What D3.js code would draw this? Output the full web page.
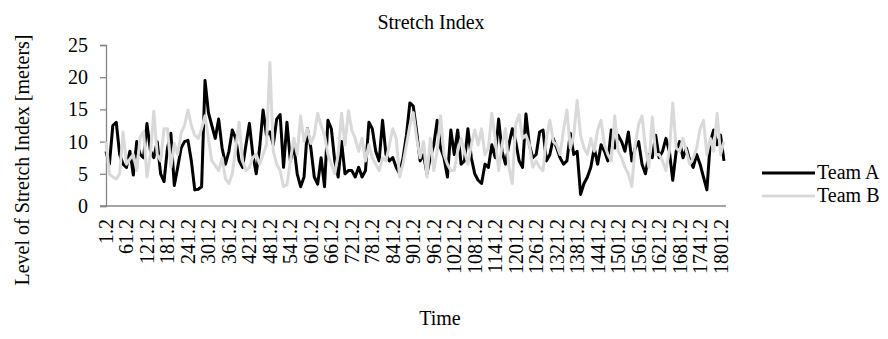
<!DOCTYPE html>
<html>
<head>
<meta charset="utf-8">
<script src="https://cdn.jsdelivr.net/npm/d3@7"></script>
<style>
  body { margin: 0; background: #fff; }
  text { font-family: "Liberation Serif", "Times New Roman", serif; fill: #000; }
</style>
</head>
<body>
<script>
// time stamps: every 10 s starting from 1.2
const timeStart = 1.2;
const timeStep = 10;

// Stretch index, 6 samples per 60-unit label interval
const teamA = [
  8.5, 6.5, 12.5, 13, 8, 6.5,
  6, 8.5, 4.8, 10, 8, 7.5,
  12.8, 8.6, 7.5, 10, 5, 3.8,
  9, 11.3, 3.2, 6, 9, 10,
  10.2, 7, 2.5, 2.6, 3, 19.5,
  14.5, 12.5, 10.5, 13.5, 9, 6.5,
  8.5, 11.8, 10.5, 7, 6, 9.5,
  12.8, 8, 5, 9, 14.9, 11,
  11.5, 9.5, 13.5, 14.2, 6, 13,
  7, 9.5, 5, 3, 4.5, 12,
  9, 4.5, 3.4, 7.5, 3, 13.3,
  12, 7, 4.5, 10, 5, 5.5,
  5.5, 4.5, 6, 4.5, 5.5, 13,
  12, 8.5, 7, 13.3, 8, 7,
  7.5, 6, 5, 7.5, 11, 16,
  15.5, 11.5, 7, 8, 5, 7.5,
  9.5, 13.3, 9, 7.5, 4.5, 11.8,
  8, 11.8, 6.5, 7, 12, 7.5,
  5, 4, 3.5, 6.5, 6, 9.5,
  7.5, 13.5, 8.5, 6.5, 9.5, 12,
  10, 7, 6, 14.3, 9.5, 7.5,
  8, 11.5, 11.8, 7, 8, 10.5,
  9, 7.5, 6.5, 7, 11.3, 8,
  8.5, 1.8, 3.5, 4.5, 6, 9,
  6.5, 9.5, 8.5, 7, 11.8, 9,
  11, 10, 8.5, 11.5, 7, 9,
  10, 6.5, 5, 8, 7.5, 11,
  7.5, 8.5, 10.5, 8.5, 4, 8.5,
  10, 7.5, 9, 7, 6, 8,
  6.5, 4.5, 2.5, 10, 11.8, 9.5,
  11, 7
];
const teamB = [
  10, 5, 4.5, 4.2, 5, 11.5,
  6.5, 7.3, 8, 5.5, 10.7, 11.5,
  4.5, 8, 14.7, 8, 7, 12,
  12, 6, 9.7, 8, 11.3, 12.5,
  14.9, 12.5, 11, 10.5, 12, 14,
  10.5, 7, 6.3, 5.5, 7.5, 4.2,
  3.5, 5, 9, 13, 7, 5.5,
  6, 7.5, 8, 6.5, 8, 9.5,
  22.3, 8.5, 6.5, 5.5, 3, 3.3,
  7, 10.5, 8, 14, 10, 12,
  9.7, 11, 14.4, 12.5, 11, 8,
  6.5, 5, 8, 14.4, 9.5, 14.8,
  11.8, 10.5, 8.5, 10.5, 7, 9.5,
  7.5, 6.5, 5.5, 7.5, 7, 9.5,
  12, 10.5, 4.5, 6.5, 9.5, 12.5,
  14.5, 10.5, 7.5, 10, 4.5, 10.5,
  5.5, 8.5, 14, 8, 6.5, 5.5,
  5.5, 8.5, 10.5, 8.5, 6.5, 9.5,
  11.8, 9.5, 12, 8, 9, 14.4,
  10.5, 5.5, 9.5, 12, 6, 3.5,
  12.7, 14.2, 10.5, 11, 9.5, 6,
  7, 6, 5.5, 10.5, 13.3, 10,
  9.5, 8, 11.8, 14.9, 9, 11,
  16.4, 11, 9, 8, 10.5, 8.5,
  11.8, 13.3, 9.5, 8, 7, 14,
  8.5, 7.5, 6, 5, 3, 9.5,
  12.7, 14, 9, 6, 13.8, 8,
  8, 7, 5.5, 8.5, 16, 9,
  8.5, 10.5, 8.5, 6.5, 7.5, 9,
  12, 13.3, 8, 10.5, 8.5, 14.4,
  8, 10
];

const xTickLabels = d3.range(0, 31).map(i => (1.2 + i * 60).toFixed(1));
const yTicks = [0, 5, 10, 15, 20, 25];
const seriesNames = ['Team A', 'Team B'];
const seriesColors = ['#000000', '#d9d9d9'];

const times = teamA.map((d, i) => timeStart + i * timeStep);

const W = 888, H = 339;
const plot = { left: 106, right: 725, top: 45, bottom: 206 };
const fontSize = 20;

const svg = d3.select('body').append('svg')
  .attr('width', W)
  .attr('height', H);

const x = d3.scaleLinear()
  .domain([timeStart, d3.max(times) + 3])
  .range([plot.left, plot.right]);

const y = d3.scaleLinear()
  .domain([0, 25])
  .range([plot.bottom, plot.top]);

// y axis
const yAxis = svg.append('g')
  .attr('transform', `translate(${plot.left},0)`)
  .call(d3.axisLeft(y).tickValues(yTicks).tickSize(6).tickPadding(12));
yAxis.select('.domain').attr('stroke', '#868686').attr('stroke-width', 1.3);
yAxis.selectAll('.tick line').attr('stroke', '#868686').attr('stroke-width', 1.3);
yAxis.selectAll('.tick text')
  .attr('font-size', fontSize)
  .attr('fill', '#000');

// x axis line
svg.append('line')
  .attr('x1', plot.left - 6).attr('x2', plot.right + 1)
  .attr('y1', y(0)).attr('y2', y(0))
  .attr('stroke', '#868686').attr('stroke-width', 1.3);

// x tick labels (rotated)
svg.append('g').selectAll('text')
  .data(xTickLabels)
  .join('text')
  .attr('transform', d => `translate(${x(+d)},${plot.bottom + 13}) rotate(-90)`)
  .attr('text-anchor', 'end')
  .attr('dy', '0.35em')
  .attr('font-size', fontSize)
  .text(d => d);

// lines
const line = d3.line()
  .x((d, i) => x(times[i]))
  .y(d => y(d));

[teamA, teamB].forEach((s, k) => {
  svg.append('path')
    .datum(s)
    .attr('fill', 'none')
    .attr('stroke', seriesColors[k])
    .attr('stroke-width', 3)
    .attr('stroke-linejoin', 'round')
    .attr('d', line);
});

// titles
svg.append('text')
  .attr('x', 431).attr('y', 29)
  .attr('text-anchor', 'middle')
  .attr('font-size', fontSize)
  .text('Stretch Index');

svg.append('text')
  .attr('transform', 'translate(29,160) rotate(-90)')
  .attr('text-anchor', 'middle')
  .attr('font-size', fontSize)
  .text('Level of Stretch Index [meters]');

svg.append('text')
  .attr('x', 440).attr('y', 325)
  .attr('text-anchor', 'middle')
  .attr('font-size', fontSize)
  .text('Time');

// legend
const legend = svg.append('g').attr('transform', 'translate(762,173)');
seriesNames.forEach((name, k) => {
  const g = legend.append('g').attr('transform', `translate(0,${k * 23})`);
  g.append('line')
    .attr('x1', 0).attr('x2', 53)
    .attr('stroke', seriesColors[k])
    .attr('stroke-width', 3);
  g.append('text')
    .attr('x', 55).attr('y', 6)
    .attr('font-size', fontSize)
    .text(name);
});
</script>
</body>
</html>
